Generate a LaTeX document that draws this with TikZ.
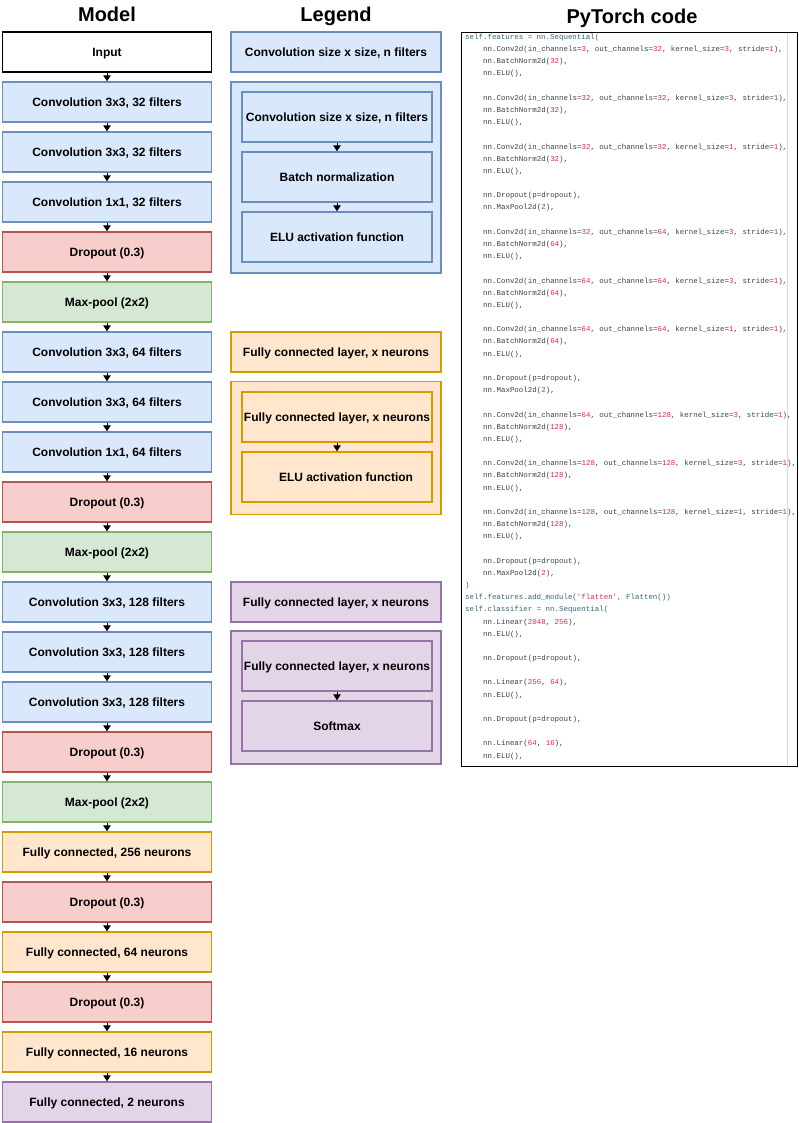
\documentclass[tikz,border=0pt]{standalone}
\usepackage{fontspec}
\setmainfont{Liberation Sans}
\newfontfamily\codefont{Liberation Mono}
\usetikzlibrary{arrows.meta}
\definecolor{convfill}{HTML}{DAE8FC}\definecolor{convdraw}{HTML}{6C8EBF}
\definecolor{dropfill}{HTML}{F8CECC}\definecolor{dropdraw}{HTML}{B85450}
\definecolor{poolfill}{HTML}{D5E8D4}\definecolor{pooldraw}{HTML}{82B366}
\definecolor{fcfill}{HTML}{FFE6CC}\definecolor{fcdraw}{HTML}{D79B00}
\definecolor{smfill}{HTML}{E1D5E7}\definecolor{smdraw}{HTML}{9673A6}
\definecolor{codetxt}{HTML}{3A3F47}
\definecolor{codetop}{HTML}{2F6577}
\definecolor{codenum}{HTML}{E0245E}
\newcommand\cnum[1]{\textcolor{codenum}{#1}}
\newcommand\cvl[4]{nn.Conv2d(in\_channels=\cnum{#1}, out\_channels=\cnum{#2}, kernel\_size=\cnum{#3}, stride=\cnum{#4}),}
\newcommand\bnl[1]{nn.BatchNorm2d(\cnum{#1}),}
\newcommand\elul{nn.ELU(),}
\newcommand\ly[1]{37.5+(#1-1)*12.18}
\tikzset{
  blk/.style={draw, line width=1.4pt, minimum width=209pt, minimum height=40pt, inner sep=0pt,
    text height=8.6pt, text depth=0pt, font=\bfseries\fontsize{12}{14}\selectfont},
  inbox/.style={blk, draw=black, fill=white},
  conv/.style={blk, draw=convdraw, fill=convfill},
  drop/.style={blk, draw=dropdraw, fill=dropfill},
  pool/.style={blk, draw=pooldraw, fill=poolfill},
  fc/.style={blk, draw=fcdraw, fill=fcfill},
  sm/.style={blk, draw=smdraw, fill=smfill},
  inner/.style={minimum width=190pt, minimum height=50pt},
  grp/.style={minimum width=210pt},
  arr/.style={line width=1pt, -{Triangle[length=6pt,width=7.5pt]}},
  ttl/.style={font=\bfseries\fontsize{20}{24}\selectfont, inner sep=0pt, text height=14.5pt, text depth=0pt},
  codeline/.style={anchor=west, inner sep=0pt, text height=5.5pt, text depth=1.6pt,
    font=\codefont\fontsize{7.45}{9}\selectfont, text=codetxt},
  codetopline/.style={codeline, text=codetop},
}
\begin{document}
\begin{tikzpicture}[x=1pt,y=-1pt]
\useasboundingbox (0,0) rectangle (798,1123);
% titles
\node[ttl] (tmodel) at (107,14) {Model};
\node[ttl] (tlegend) at (336,14) {Legend};
\node[ttl] (tcode) at (632,16) {PyTorch code};
% model column
\node[inbox] (m1) at (107,52) {Input};
\node[conv] (m2) at (107,102) {Convolution 3x3, 32 filters};
\node[conv] (m3) at (107,152) {Convolution 3x3, 32 filters};
\node[conv] (m4) at (107,202) {Convolution 1x1, 32 filters};
\node[drop] (m5) at (107,252) {Dropout (0.3)};
\node[pool] (m6) at (107,302) {Max-pool (2x2)};
\node[conv] (m7) at (107,352) {Convolution 3x3, 64 filters};
\node[conv] (m8) at (107,402) {Convolution 3x3, 64 filters};
\node[conv] (m9) at (107,452) {Convolution 1x1, 64 filters};
\node[drop] (m10) at (107,502) {Dropout (0.3)};
\node[pool] (m11) at (107,552) {Max-pool (2x2)};
\node[conv] (m12) at (107,602) {Convolution 3x3, 128 filters};
\node[conv] (m13) at (107,652) {Convolution 3x3, 128 filters};
\node[conv] (m14) at (107,702) {Convolution 3x3, 128 filters};
\node[drop] (m15) at (107,752) {Dropout (0.3)};
\node[pool] (m16) at (107,802) {Max-pool (2x2)};
\node[fc] (m17) at (107,852) {Fully connected, 256 neurons};
\node[drop] (m18) at (107,902) {Dropout (0.3)};
\node[fc] (m19) at (107,952) {Fully connected, 64 neurons};
\node[drop] (m20) at (107,1002) {Dropout (0.3)};
\node[fc] (m21) at (107,1052) {Fully connected, 16 neurons};
\node[sm] (m22) at (107,1102) {Fully connected, 2 neurons};
\foreach \i [evaluate=\i as \j using int(\i+1)] in {1,...,21}
  \draw[arr] (m\i.south) -- (m\j.north);
% legend: convolution
\node[conv, grp] (lc) at (336,52) {Convolution size x size, n filters};
\node[conv, grp, minimum height=191pt] (lcg) at (336,177.5) {};
\node[conv, inner] (lc1) at (337,117) {Convolution size x size, n filters};
\node[conv, inner] (lc2) at (337,177) {Batch normalization};
\node[conv, inner] (lc3) at (337,237) {ELU activation function};
\draw[arr] (lc1.south) -- (lc2.north);
\draw[arr] (lc2.south) -- (lc3.north);
% legend: fully connected
\node[fc, grp] (lf) at (336,352) {Fully connected layer, x neurons};
\node[fc, grp, minimum height=133pt] (lfg) at (336,448) {};
\node[fc, inner] (lf1) at (337,417) {Fully connected layer, x neurons};
\node[fc, inner] (lf2) at (337,477) {\hspace*{18pt}ELU activation function};
\draw[arr] (lf1.south) -- (lf2.north);
% legend: output
\node[sm, grp] (ls) at (336,602) {Fully connected layer, x neurons};
\node[sm, grp, minimum height=133pt] (lsg) at (336,697.5) {};
\node[sm, inner] (ls1) at (337,666) {Fully connected layer, x neurons};
\node[sm, inner] (ls2) at (337,726) {Softmax};
\draw[arr] (ls1.south) -- (ls2.north);
% code panel
\node[draw, line width=1pt, minimum width=336pt, minimum height=734pt, anchor=north west, inner sep=0pt] (codebox) at (461,32) {};
\draw[black!15, line width=0.8pt] (787,33) -- (787,765);
\node[codetopline] (c1) at (465,{\ly{1}}) {self.features = nn.Sequential(};
\node[codeline] (c2) at (483,{\ly{2}}) {\cvl{3}{32}{3}{1}};
\node[codeline] (c3) at (483,{\ly{3}}) {\bnl{32}};
\node[codeline] (c4) at (483,{\ly{4}}) {\elul};
\node[codeline] (c6) at (483,{\ly{6}}) {\cvl{32}{32}{3}{1}};
\node[codeline] (c7) at (483,{\ly{7}}) {\bnl{32}};
\node[codeline] (c8) at (483,{\ly{8}}) {\elul};
\node[codeline] (c10) at (483,{\ly{10}}) {\cvl{32}{32}{1}{1}};
\node[codeline] (c11) at (483,{\ly{11}}) {\bnl{32}};
\node[codeline] (c12) at (483,{\ly{12}}) {\elul};
\node[codeline] (c14) at (483,{\ly{14}}) {nn.Dropout(p=dropout),};
\node[codeline] (c15) at (483,{\ly{15}}) {nn.MaxPool2d(\cnum{2}),};
\node[codeline] (c17) at (483,{\ly{17}}) {\cvl{32}{64}{3}{1}};
\node[codeline] (c18) at (483,{\ly{18}}) {\bnl{64}};
\node[codeline] (c19) at (483,{\ly{19}}) {\elul};
\node[codeline] (c21) at (483,{\ly{21}}) {\cvl{64}{64}{3}{1}};
\node[codeline] (c22) at (483,{\ly{22}}) {\bnl{64}};
\node[codeline] (c23) at (483,{\ly{23}}) {\elul};
\node[codeline] (c25) at (483,{\ly{25}}) {\cvl{64}{64}{1}{1}};
\node[codeline] (c26) at (483,{\ly{26}}) {\bnl{64}};
\node[codeline] (c27) at (483,{\ly{27}}) {\elul};
\node[codeline] (c29) at (483,{\ly{29}}) {nn.Dropout(p=dropout),};
\node[codeline] (c30) at (483,{\ly{30}}) {nn.MaxPool2d(\cnum{2}),};
\node[codeline] (c32) at (483,{\ly{32}}) {\cvl{64}{128}{3}{1}};
\node[codeline] (c33) at (483,{\ly{33}}) {\bnl{128}};
\node[codeline] (c34) at (483,{\ly{34}}) {\elul};
\node[codeline] (c36) at (483,{\ly{36}}) {\cvl{128}{128}{3}{1}};
\node[codeline] (c37) at (483,{\ly{37}}) {\bnl{128}};
\node[codeline] (c38) at (483,{\ly{38}}) {\elul};
\node[codeline] (c40) at (483,{\ly{40}}) {\cvl{128}{128}{1}{1}};
\node[codeline] (c41) at (483,{\ly{41}}) {\bnl{128}};
\node[codeline] (c42) at (483,{\ly{42}}) {\elul};
\node[codeline] (c44) at (483,{\ly{44}}) {nn.Dropout(p=dropout),};
\node[codeline] (c45) at (483,{\ly{45}}) {nn.MaxPool2d(\cnum{2}),};
\node[codetopline] (c46) at (465,{\ly{46}}) {)};
\node[codetopline] (c47) at (465,{\ly{47}}) {self.features.add\_module(\textcolor{codenum}{'flatten'}, Flatten())};
\node[codetopline] (c48) at (465,{\ly{48}}) {self.classifier = nn.Sequential(};
\node[codeline] (c49) at (483,{\ly{49}}) {nn.Linear(\cnum{2048}, \cnum{256}),};
\node[codeline] (c50) at (483,{\ly{50}}) {\elul};
\node[codeline] (c52) at (483,{\ly{52}}) {nn.Dropout(p=dropout),};
\node[codeline] (c54) at (483,{\ly{54}}) {nn.Linear(\cnum{256}, \cnum{64}),};
\node[codeline] (c55) at (483,{\ly{55}}) {\elul};
\node[codeline] (c57) at (483,{\ly{57}}) {nn.Dropout(p=dropout),};
\node[codeline] (c59) at (483,{\ly{59}}) {nn.Linear(\cnum{64}, \cnum{16}),};
\node[codeline] (c60) at (483,{\ly{60}}) {\elul};
\end{tikzpicture}
\end{document}
